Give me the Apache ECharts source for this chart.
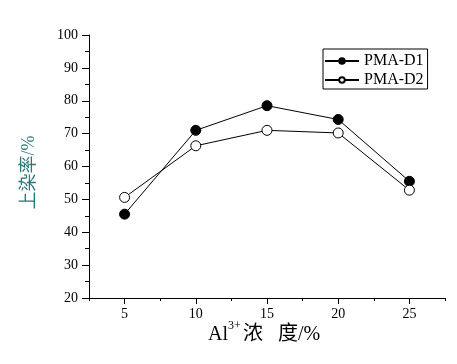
<!DOCTYPE html>
<html>
<head>
<meta charset="utf-8">
<script src="https://cdn.jsdelivr.net/npm/echarts@6/dist/echarts.min.js"></script>
<style>html,body{margin:0;padding:0;background:#fff;}#c{width:457px;height:364px;}</style>
</head>
<body>
<div id="c"></div>
<script>
var xValues = [5, 10, 15, 20, 25];
var d1Values = [45.5, 71.0, 78.5, 74.3, 55.5];
var d2Values = [50.6, 66.3, 71.0, 70.2, 52.8];
var xTickLabels = [5, 10, 15, 20, 25];
var seriesNames = ['PMA-D1', 'PMA-D2'];
var xTitleParts = ['Al', '3+', '浓   度/%'];
var yTitle = '上染率/%';

var serif = '"Liberation Serif", "Noto Sans CJK SC", serif';
function pairs(xs, ys) { return xs.map(function (x, i) { return [x, ys[i]]; }); }

var chart = echarts.init(document.getElementById('c'), null, {renderer: 'canvas'});
chart.setOption({
  animation: false,
  backgroundColor: '#fff',
  grid: {left: 89, top: 35, right: 12, bottom: 66},
  legend: {
    orient: 'vertical',
    left: 323, top: 49,
    padding: [4, 4, 1, 1],
    itemGap: 3,
    itemWidth: 34, itemHeight: 7,
    itemTextGap: 5,
    borderColor: '#000', borderWidth: 1,
    textStyle: {fontFamily: serif, fontSize: 16, color: '#000', lineHeight: 16},
    data: seriesNames
  },
  graphic: [
    {type: 'text', left: 208, top: 325, style: {text: xTitleParts[0], font: '20px ' + serif, fill: '#000'}},
    {type: 'text', left: 228, top: 320, style: {text: xTitleParts[1], font: '12px ' + serif, fill: '#000'}},
    {type: 'text', left: 243, top: 325, style: {text: xTitleParts[2], font: '20px ' + serif, fill: '#000'}}
  ],
  xAxis: [{
    type: 'value', min: 2.5, max: 27.5, interval: 2.5,
    axisLine: {lineStyle: {color: '#000', width: 1}},
    axisTick: {show: true, length: 6, customValues: xTickLabels, lineStyle: {color: '#000'}},
    axisLabel: {customValues: xTickLabels, margin: 9, fontFamily: serif, fontSize: 14, color: '#000'},
    splitLine: {show: false}
  }, {
    type: 'value', min: 2.5, max: 27.5, interval: 2.5, position: 'bottom',
    axisLine: {show: false},
    axisTick: {show: true, length: 3, lineStyle: {color: '#000'}},
    axisLabel: {show: false},
    splitLine: {show: false}
  }],
  yAxis: {
    type: 'value', min: 20, max: 100, interval: 10,
    axisLine: {show: true, lineStyle: {color: '#000', width: 1}},
    axisTick: {show: true, length: 7, lineStyle: {color: '#000'}},
    minorTick: {show: true, splitNumber: 2, length: 4, lineStyle: {color: '#000'}},
    axisLabel: {margin: 11, fontFamily: serif, fontSize: 14, color: '#000'},
    splitLine: {show: false},
    name: yTitle,
    nameLocation: 'middle', nameGap: 51, nameRotate: 90,
    nameTextStyle: {fontFamily: serif, fontSize: 18, color: '#2a7676', padding: [0, 12, 0, 0]}
  },
  series: [{
    name: seriesNames[0], type: 'line', xAxisIndex: 0,
    data: pairs(xValues, d1Values),
    symbol: 'circle', symbolSize: 10,
    lineStyle: {color: '#000', width: 1},
    itemStyle: {color: '#000', borderColor: '#000', borderWidth: 1}
  }, {
    name: seriesNames[1], type: 'line', xAxisIndex: 0,
    data: pairs(xValues, d2Values),
    symbol: 'circle', symbolSize: 10,
    lineStyle: {color: '#000', width: 1},
    itemStyle: {color: '#fff', borderColor: '#000', borderWidth: 1}
  }]
});
</script>
</body>
</html>
